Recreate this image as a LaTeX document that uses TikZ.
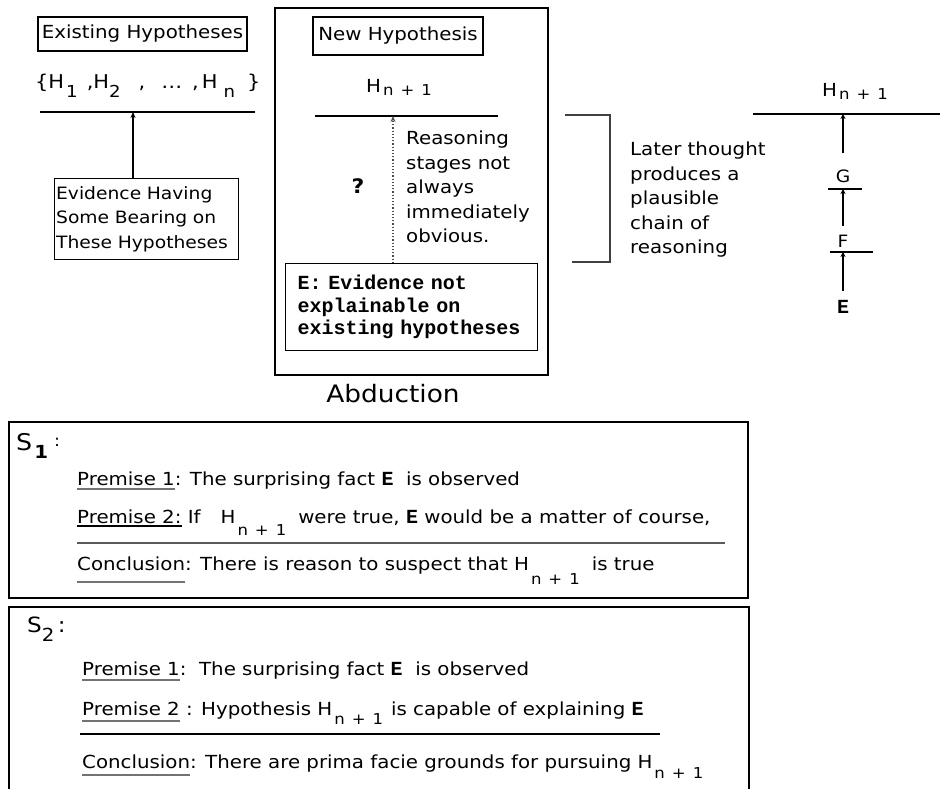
\documentclass[tikz,border=0pt]{standalone}
\usepackage{fontspec}
\setmainfont{DejaVu Sans}[FakeStretch=1.1]
\newfontfamily\monof{Liberation Mono}
\usetikzlibrary{arrows.meta}
\newcommand\HX[2]{H\kern2pt\raisebox{-#1}{\fontsize{15}{15}\selectfont #2}}
\newcommand\np{n\hspace{7pt}+\hspace{7pt}1}
\newcommand\EE{{\monof\bfseries\fontsize{20}{20}\selectfont E}}
\newcommand\gul[2][5.5pt]{\setbox0\hbox{#2}\rlap{\raisebox{-#1}{\color{black!55}\rule{\wd0}{2.5pt}}}\box0\relax}
\newcommand\bul[1]{\setbox0\hbox{#1}\rlap{\raisebox{-3.5pt}{\rule{\wd0}{1.6pt}}}\box0\relax}
\newcommand\lsub[1]{\raisebox{-9pt}{\fontsize{16.5}{16.5}\selectfont #1}}
\begin{document}
\begin{tikzpicture}[x=1pt,y=-1pt,
  every node/.style={inner sep=0pt},
  box/.style={draw=black,line width=1.3pt},
  lbl/.style={font=\fontsize{18}{24.5}\selectfont},
  sline/.style={font=\fontsize{18}{18}\selectfont,anchor=base west},
  hline/.style={line width=1.5pt},
  arr/.style={line width=2.2pt,-{Stealth[length=6pt,width=5pt]}},
  arrt/.style={line width=1.6pt,-{Stealth[length=5pt,width=5pt]}},
  dotarr/.style={line width=1.2pt,dotted,draw=black!70,-{Stealth[length=6pt,width=5pt]}}]
\useasboundingbox (0,0) rectangle (940,789);
% ---------- top left
\node[box,lbl,minimum width=209pt,minimum height=34pt] (exist) at (142.5,34) {Existing Hypotheses};
\node[font=\fontsize{19}{19}\selectfont,anchor=base west] (hset) at (35,89) {\{H\kern2pt\lsub{1}\kern9pt,H\lsub{2}\kern18pt,\kern16pt…\kern10pt,\kern3pt H\kern6pt\lsub{n}\kern12pt\}};
\coordinate (l1a) at (40,112);
\coordinate (l1b) at (255,112);
\draw[hline] (l1a) -- (l1b);
\node[box,font=\fontsize{17}{24.5}\selectfont,anchor=north west,align=left,text width=181pt,inner xsep=1.5pt,minimum height=81pt] (evid) at (54,178) {Evidence Having\\Some Bearing on\\These Hypotheses};
\coordinate (a1) at (133,112);
\draw[arr] (evid.north -| a1) -- (a1);
% ---------- middle
\node[box,minimum width=273pt,minimum height=367pt] (abd) at (411.5,191.5) {};
\node[box,lbl,minimum width=170pt,minimum height=38pt] (newh) at (398,36) {New Hypothesis};
\node[lbl,anchor=base west] (hmid) at (366,93) {\HX{3pt}{\np}};
\coordinate (l2a) at (315,116);
\coordinate (l2b) at (498,116);
\draw[hline] (l2a) -- (l2b);
\node[box,anchor=north west,font=\monof\bfseries\fontsize{20}{22.5}\selectfont,align=left,text width=228pt,inner xsep=12pt,minimum height=87pt] (ebox) at (285,263) {E: Evidence not\\explainable on\\existing hypotheses};
\coordinate (a2) at (393,116);
\draw[dotarr] (ebox.north -| a2) -- (a2);
\node[font=\bfseries\fontsize{20}{20}\selectfont] (q) at (358,186) {?};
\node[lbl,anchor=north west,align=left] (reas) at (406,131) {Reasoning\\stages not\\always\\immediately\\obvious.};
\node[font=\fontsize{24}{24}\selectfont] (abdl) at (393,394) {Abduction};
% ---------- right
\coordinate (b1) at (565,115);
\coordinate (b2) at (610,115);
\coordinate (b3) at (610,262);
\coordinate (b4) at (572,262);
\draw[hline,draw=black!75] (b1) -- (b2) -- (b3) -- (b4);
\node[lbl,anchor=north west,align=left] (later) at (630,142) {Later thought\\produces a\\plausible\\chain of\\reasoning};
\node[lbl,anchor=base west] (hr) at (822,97) {\HX{3pt}{\np}};
\coordinate (l3a) at (753,114);
\coordinate (l3b) at (940,114);
\draw[hline] (l3a) -- (l3b);
\node[font=\fontsize{17}{17}\selectfont] (G) at (843,176) {G};
\coordinate (g1) at (828,189);
\coordinate (g2) at (862,189);
\draw[hline] (g1) -- (g2);
\node[font=\fontsize{17}{17}\selectfont] (F) at (843,241) {F};
\coordinate (f1) at (830,252);
\coordinate (f2) at (873,252);
\draw[hline] (f1) -- (f2);
\node[font=\monof\bfseries\fontsize{20}{20}\selectfont] (E) at (843,307) {E};
\coordinate (t1) at (843,114);
\coordinate (t2) at (843,189);
\coordinate (t3) at (843,252);
\draw[arrt,shorten <=16pt] (G.north) -- (t1);
\draw[arrt,shorten <=9pt] (F.north) -- (t2);
\draw[arrt,shorten <=9pt] (E.north) -- (t3);
% ---------- S1
\node[box,minimum width=739pt,minimum height=176pt] (s1) at (378.5,510) {};
\node[anchor=base west,font=\fontsize{23}{23}\selectfont] (s1l) at (16,450) {S\kern2pt\raisebox{-8pt}{\fontsize{18}{18}\selectfont\bfseries 1}\kern6pt\raisebox{4pt}{\fontsize{16}{16}\selectfont:}};
\node[sline] (s1p1) at (77,485) {\gul[5pt]{Premise 1}: The surprising fact \EE\ \ is observed};
\node[sline] (s1p2) at (77,523) {\bul{Premise 2:} If\hspace{20pt}\HX{12pt}{\np}\hspace{12pt}were true, \EE\ would be a matter of course,};
\coordinate (r1a) at (77,543);
\coordinate (r1b) at (725,543);
\draw[line width=1.6pt,draw=black!65] (r1a) -- (r1b);
\node[sline] (s1c) at (77,570) {\gul[13pt]{Conclusion}: There is reason to suspect that \HX{14pt}{\np}\hspace{12pt}is true};
% ---------- S2
\draw[line width=1.3pt] (9,789) -- (9,607) -- (749,607) -- (749,789);
\node[anchor=base west,font=\fontsize{21}{21}\selectfont] (s2l) at (27,632) {S\raisebox{-9pt}{\fontsize{18}{18}\selectfont 2}\,:};
\node[sline] (s2p1) at (82,675) {\gul[6pt]{Premise 1}:\ \ The surprising fact \EE\ \ is observed};
\node[sline] (s2p2) at (82,715) {\gul[7pt]{Premise 2} : Hypothesis \HX{9pt}{\np}\hspace{8pt}is capable of explaining \EE};
\coordinate (r2a) at (80,734);
\coordinate (r2b) at (660,734);
\draw[line width=1.5pt] (r2a) -- (r2b);
\node[sline] (s2c) at (82,768) {\gul[8pt]{Conclusion}: There are prima facie grounds for pursuing \HX{10pt}{\np}};
\end{tikzpicture}
\end{document}
